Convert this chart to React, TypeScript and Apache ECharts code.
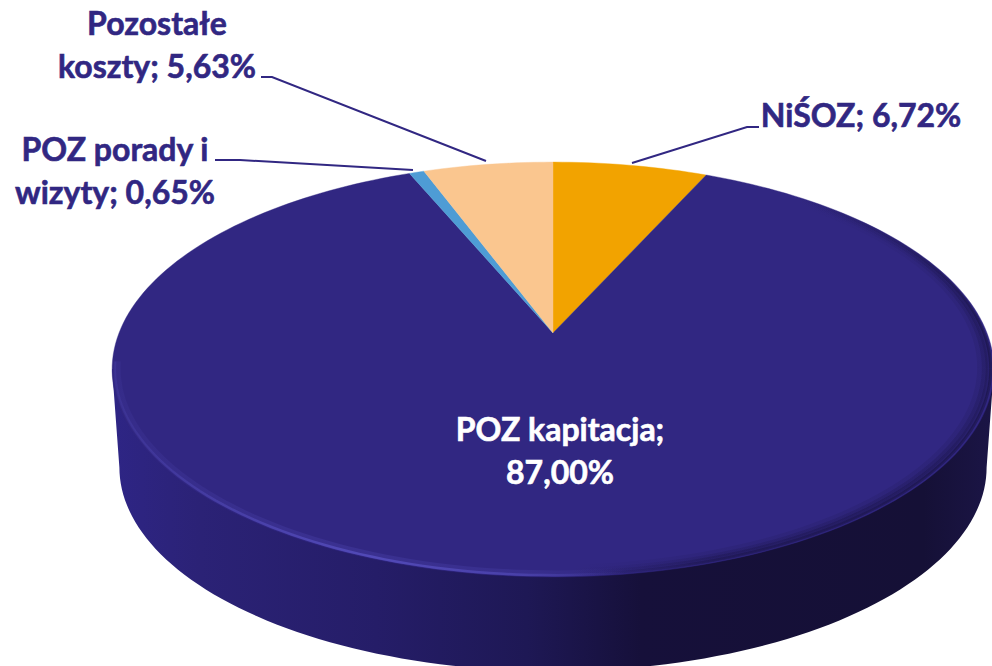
import React, { useEffect, useRef } from "react";
import * as echarts from "echarts";

const names = ["NiŚOZ", "POZ kapitacja", "POZ porady i wizyty", "Pozostałe koszty"];
const values = [6.72, 87.0, 0.65, 5.63];
const colors = ["#F2A300", "#312782", "#4E9CD5", "#FAC68F"];
const textColor = "#312782";
const labelLines = [
  "NiŚOZ; 6,72%",
  "POZ kapitacja;\n87,00%",
  "POZ porady i\nwizyty; 0,65%",
  "Pozostałe\nkoszty; 5,63%",
];

// perspective projection of the unit pie disc onto the page
const CX = 553, CY = 333, A = 434, B = 201, K = 0.176;
const project = (deg: number, r = 1, dy = 0): number[] => {
  const a = (deg * Math.PI) / 180;
  const X = r * Math.sin(a), Y = r * Math.cos(a);
  const w = 1 + K * Y;
  return [CX + (A * X) / w, CY - (B * Y) / w + dy];
};
const arc = (from: number, to: number, r = 1, dy = 0): number[][] => {
  const n = Math.max(2, Math.ceil(Math.abs(to - from) / 1.5));
  const out: number[][] = [];
  for (let i = 0; i <= n; i++) out.push(project(from + ((to - from) * i) / n, r, dy));
  return out;
};
const grad = (stops: [number, string][]) =>
  new echarts.graphic.LinearGradient(0, 0, 1, 0, stops.map(([offset, color]) => ({ offset, color })));

const total = values.reduce((s, v) => s + v, 0);
const startAngles = values.map((_, i) => (values.slice(0, i).reduce((s, v) => s + v, 0) / total) * 360);

function rim(from: number, to: number, r: number, width: number, stops: [number, string][]) {
  return {
    type: "polyline",
    silent: true,
    shape: { points: arc(from, to, r) },
    style: { fill: "none", stroke: grad(stops), lineWidth: width, lineCap: "butt" },
  };
}
const dark = (a: number) => `rgba(20,15,58,${a})`;
const light = (a: number) => `rgba(86,78,190,${a})`;

export default function App() {
  const ref = useRef<HTMLDivElement>(null);
  useEffect(() => {
    const chart = echarts.init(ref.current!, null, { renderer: "svg" });
    const line = (points: number[][]) => ({
      type: "polyline",
      silent: true,
      shape: { points },
      style: { fill: "none", stroke: textColor, lineWidth: 1.9 },
    });
    const text = (x: number, y: number, t: string, fill: string) => ({
      type: "text",
      x,
      y,
      style: {
        text: t,
        fill,
        stroke: fill,
        lineWidth: 0.6,
        font: "bold 32px Lato",
        lineHeight: 43,
        align: "center",
        verticalAlign: "middle",
      },
    });
    // soft shadow on the rim of the right side: [radius, width, strength]
    const shadeLayers = [
      [0.972, 8, 0.1],
      [0.98, 6, 0.16],
      [0.987, 5, 0.25],
      [0.993, 3, 0.4],
    ];
    chart.setOption({
      animation: false,
      backgroundColor: "#ffffff",
      series: [
        {
          type: "custom",
          coordinateSystem: "none",
          silent: true,
          z: 1,
          data: [values[1]],
          renderItem: () => ({
            type: "polygon",
            shape: { points: arc(100, 260, 0.984, 99).concat([project(260), project(100)]) },
            style: {
              fill: grad([
                [0, "#2E2585"],
                [0.1, "#2B2276"],
                [0.3, "#251D68"],
                [0.47, "#1E1855"],
                [0.6, "#16103A"],
                [0.92, "#151036"],
                [1, "#1B1546"],
              ]),
            },
          }),
        },
        {
          type: "custom",
          coordinateSystem: "none",
          silent: true,
          z: 2,
          data: values.map((v, i) => [v, i]),
          renderItem: (_: any, api: any) => {
            const i = api.value(1);
            const from = startAngles[i];
            const to = from + (api.value(0) / total) * 360;
            return {
              type: "polygon",
              shape: { points: [[CX, CY], ...arc(from, to)] },
              style: { fill: colors[i], stroke: colors[i], lineWidth: 0.4 },
            };
          },
        },
        {
          type: "custom",
          coordinateSystem: "none",
          silent: true,
          z: 3,
          data: [values[1]],
          renderItem: () => ({
            type: "group",
            children: [
              ...shadeLayers.map(([r, w, s]) =>
                rim(40, 100, r, w, [[0, dark(0)], [0.55, dark(s * 0.5)], [1, dark(s * 1.2)]])
              ),
              ...shadeLayers.map(([r, w, s]) =>
                rim(100, 178, r, w, [[0, dark(0)], [0.35, dark(s)], [1, dark(s * 1.2)]])
              ),
              rim(262, 172, 0.988, 6, [[0, light(0.12)], [0.45, light(0.25)], [0.8, light(0.2)], [1, light(0)]]),
              rim(262, 172, 0.994, 2.5, [[0, light(0.2)], [0.5, light(0.85)], [0.8, light(0.55)], [1, light(0)]]),
            ],
          }),
        },
      ],
      graphic: [
        line([[261, 77], [272, 77], [486, 161]]),
        line([[215, 160], [240, 160], [413, 170]]),
        line([[759, 127], [747, 127], [632, 163]]),
        text(861, 114, labelLines[0], textColor),
        text(560, 450, labelLines[1], "#ffffff"),
        text(115, 169.5, labelLines[2], textColor),
        text(157, 44, labelLines[3], textColor),
      ].map((g) => ({ ...g, z: 10 })),
    });
    return () => chart.dispose();
  }, []);
  return <div ref={ref} style={{ position: "absolute", left: 0, top: 0, width: 992, height: 666 }} />;
}
